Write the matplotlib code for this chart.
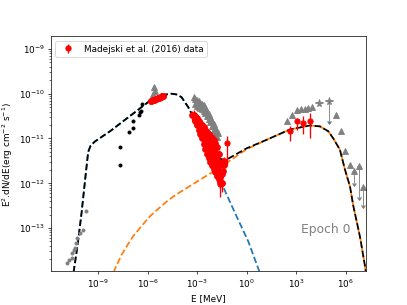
import numpy as np
import matplotlib.pyplot as plt
from matplotlib.ticker import NullLocator

# model curves: log10(E/MeV), log10(E^2 dN/dE)
sync_logE = [-10.55, -10.47, -10.25, -10.0, -9.75, -9.6, -9.45, -9.2, -8.28, -7.0, -5.76, -5.25,
             -4.9, -4.55, -4.2, -3.94, -3.54, -3.33, -3.0, -2.5, -1.62, -0.71, 0.1, 0.7, 0.9]
sync_logF = [-14.2, -13.95, -13.41, -12.66, -11.8, -11.3, -11.16, -11.07, -10.84, -10.48, -10.13, -10.07,
             -10.02, -10.0, -10.02, -10.08, -10.3, -10.45, -10.68, -11.17, -11.92, -12.66, -13.3, -13.9, -14.1]

ic_logE = [-8.15, -8.02, -7.58, -7.2, -6.87, -6.4, -5.86, -5.35, -4.85, -4.45, -4.04, -3.03, -2.02, -1.32,
           -1.11, 0.0, 1.21, 2.62, 3.84, 4.44, 4.95, 5.25, 5.65, 5.96, 6.26, 6.46, 6.87, 7.17, 7.35]
ic_logF = [-14.2, -13.95, -13.6, -13.37, -13.18, -12.97, -12.74, -12.57, -12.41, -12.3, -12.2, -11.97, -11.74,
           -11.58, -11.52, -11.24, -11.03, -10.8, -10.71, -10.73, -10.84, -11.0, -11.25, -11.7, -12.07, -12.5,
           -13.2, -13.85, -14.3]

tot_logE = [-10.55, -10.47, -10.25, -10.0, -9.75, -9.6, -9.45, -9.2, -8.28, -7.0, -5.76, -5.25, -4.9,
            -4.55, -4.2, -3.94, -3.54, -3.33, -3.0, -2.5, -2.0, -1.5, -1.11, 0.0, 1.21, 2.62, 3.84,
            4.44, 4.95, 5.25, 5.65, 5.96, 6.26, 6.46, 6.87, 7.17, 7.35]
tot_logF = [-14.2, -13.95, -13.41, -12.66, -11.8, -11.3, -11.16, -11.07, -10.84, -10.48, -10.13, -10.07, -10.02,
            -10.0, -10.02, -10.08, -10.3, -10.45, -10.66, -11.1, -11.37, -11.47, -11.45, -11.22, -11.03, -10.8, -10.71,
            -10.73, -10.84, -11.0, -11.25, -11.7, -12.07, -12.5, -13.2, -13.85, -14.3]

# archival data (gray / black)
radio_logE = [-10.89, -10.75, -10.61, -10.57, -10.45, -10.41, -10.35, -10.27, -10.1, -9.9, -9.76]
radio_logF = [-13.78, -13.72, -13.67, -13.55, -13.5, -13.45, -13.34, -13.22, -13.11, -13.04, -12.63]

opt_logE = [-7.68, -7.68, -7.15, -6.9, -6.87, -6.55, -6.45, -6.4, -6.33]
opt_logF = [-11.6, -11.19, -10.85, -10.77, -10.6, -10.47, -10.42, -10.38, -10.24]

uv_logE = [-5.62, -5.7, -5.55]
uv_logF = [-9.85, -10.0, -9.95]

xg_logE = [-3.2, -3.1, -3.0, -2.9, -2.8, -2.7, -2.6, -2.5, -2.4, -2.3, -2.2, -2.1, -2.0, -1.9, -1.8, -1.75,
           -3.1, -3.0, -2.9, -2.8, -2.7, -2.6, -2.5, -2.4, -2.3, -2.2, -2.1, -2.0, -1.9, -1.8]
xg_logF = [-10.08, -10.12, -10.15, -10.17, -10.2, -10.22, -10.26, -10.32, -10.38, -10.45, -10.52, -10.6,
           -10.68, -10.76, -10.84, -10.88,
           -10.24, -10.27, -10.29, -10.32, -10.34, -10.38, -10.44, -10.5, -10.57, -10.64, -10.72, -10.8,
           -10.88, -10.96]

vhe_logE = [2.46, 2.76, 3.03, 3.27, 3.53, 3.73, 3.94, 5.41, 5.7, 5.98, 6.24]
vhe_logF = [-10.62, -10.47, -10.37, -10.34, -10.34, -10.32, -10.3, -10.47, -10.84, -11.27, -11.59]

ul_logE = [6.48, 6.82, 7.07]
ul_logF = [-11.73, -11.62, -12.08]
ul_low = [-12.0, -12.3, -12.48]

star_logE = [4.4, 5.0]
star_logF = [-10.21, -10.17]
star_lo = [4.14, 4.72]
star_hi = [4.64, 5.25]
star_ul_low = -10.62

# Madejski et al. (2016) data (red)
mo_logE = [-5.8, -5.7, -5.6, -5.5, -5.4, -5.3, -5.2, -5.1, -5.05]
mo_logF = [-10.17, -10.15, -10.13, -10.12, -10.1, -10.09, -10.07, -10.06, -10.05]

# X-ray band: four rows (upper edge, two inner rows, lower edge) and the right arm
mx_logE = [-3.3, -3.2, -3.1, -3.0, -2.9, -2.8, -2.7, -2.6, -2.5, -2.4, -2.3, -2.2, -2.1, -2.0, -1.9, -1.8,
           -1.7, -1.6, -1.5,
           -3.1, -3.0, -2.9, -2.8, -2.7, -2.6, -2.5, -2.4, -2.3, -2.2, -2.1, -2.0, -1.9, -1.8, -1.7, -1.6,
           -3.1, -3.0, -2.9, -2.8, -2.7, -2.6, -2.5, -2.4, -2.3, -2.2, -2.1, -2.0, -1.9, -1.8, -1.7, -1.6,
           -3.2, -3.1, -3.0, -2.9, -2.8, -2.7, -2.6, -2.5, -2.4, -2.3, -2.2, -2.1, -2.0, -1.9, -1.8, -1.7,
           -1.6, -1.5,
           -1.45, -1.4, -1.35]
mx_logF = [-10.48, -10.47, -10.5, -10.55, -10.6, -10.65, -10.7, -10.75, -10.8, -10.85, -10.9, -10.95, -11.0,
           -11.03, -11.1, -11.18, -11.35, -11.6, -11.8,
           -10.53, -10.6, -10.67, -10.73, -10.8, -10.87, -10.95, -11.01, -11.08, -11.14, -11.2, -11.25, -11.32,
           -11.4, -11.53, -11.72,
           -10.57, -10.65, -10.73, -10.82, -10.9, -11.0, -11.09, -11.18, -11.26, -11.34, -11.4, -11.46, -11.54,
           -11.61, -11.72, -11.85,
           -10.5, -10.6, -10.7, -10.8, -10.9, -11.0, -11.12, -11.24, -11.34, -11.44, -11.53, -11.6, -11.68,
           -11.76, -11.83, -11.9, -11.97, -12.0,
           -11.72, -11.6, -11.5]

mx_deep_logE = [-1.6, -1.52]
mx_deep_logF = [-12.02, -12.0]
mx_deep_lo = [-12.3, -12.2]
mx_deep_hi = [-11.85, -11.85]

mx1_logE = -1.21
mx1_logF = -11.1
mx1_lo, mx1_hi = -11.59, -10.95

mg_logE = [2.62, 3.07, 3.43, 3.84]
mg_logF = [-10.84, -10.62, -10.65, -10.62]
mg_lo = [-11.06, -10.8, -10.91, -10.99]
mg_hi = [-10.73, -10.54, -10.5, -10.43]


def p(a):
    return 10.0 ** np.asarray(a)


fig = plt.figure(figsize=(6.4, 4.8))
ax = fig.add_subplot(111)

ax.plot(p(sync_logE), p(sync_logF), '--', color='C0', lw=2)
ax.plot(p(ic_logE), p(ic_logF), '--', color='C1', lw=2)
ax.plot(p(tot_logE), p(tot_logF), '--', color='k', lw=2)

ax.plot(p(radio_logE), p(radio_logF), 'o', color='gray', ms=3.5)
ax.plot(p(opt_logE), p(opt_logF), 'o', color='k', ms=3.5)
ax.plot(p(uv_logE), p(uv_logF), '^', color='gray', ms=7)
ax.plot(p(xg_logE), p(xg_logF), '^', color='gray', ms=6)
ax.plot(p(vhe_logE), p(vhe_logF), '^', color='gray', ms=6)

ul_y = p(ul_logF)
ax.errorbar(p(ul_logE), ul_y, yerr=ul_y - p(ul_low), uplims=True, fmt='^',
            color='gray', ms=6, elinewidth=1, capsize=2)
sx = p(star_logE)
sy = p(star_logF)
ax.errorbar(sx, sy, xerr=[sx - p(star_lo), p(star_hi) - sx], fmt='*', color='gray',
            ms=9, elinewidth=1)
ax.errorbar(sx[1:], sy[1:], yerr=sy[1:] - p([star_ul_low]), uplims=True, fmt='none',
            ecolor='gray', elinewidth=1, capsize=2)

y = p(mo_logF)
ax.errorbar(p(mo_logE), y, yerr=0.05 * y, fmt='o', color='red', ms=7, elinewidth=1.5)
y = p(mx_logF)
ax.errorbar(p(mx_logE), y, yerr=0.25 * y, fmt='o', color='red', ms=6.5, elinewidth=1.5)
y = p(mx_deep_logF)
ax.errorbar(p(mx_deep_logE), y, yerr=[y - p(mx_deep_lo), p(mx_deep_hi) - y], fmt='o',
            color='red', ms=6, elinewidth=1.5)
y1 = p(mx1_logF)
ax.errorbar([p(mx1_logE)], [y1], yerr=[[y1 - p(mx1_lo)], [p(mx1_hi) - y1]],
            fmt='o', color='red', ms=6, elinewidth=1.5)
y = p(mg_logF)
ax.errorbar(p(mg_logE), y, yerr=[y - p(mg_lo), p(mg_hi) - y], fmt='o', color='red',
            ms=6, elinewidth=1.5, label='Madejski et al. (2016) data')

ax.set_xscale('log')
ax.set_yscale('log')
ax.set_xlim(10 ** -11.86, 10 ** 7.25)
ax.set_ylim(10 ** -13.97, 10 ** -8.72)
ax.set_xticks([1e-9, 1e-6, 1e-3, 1e0, 1e3, 1e6])
ax.set_yticks([1e-13, 1e-12, 1e-11, 1e-10, 1e-9])
ax.xaxis.set_minor_locator(NullLocator())
ax.set_xlabel('E [MeV]')
ax.set_ylabel(r'E$^2$.dN/dE(erg cm$^{-2}$ s$^{-1}$)')
ax.text(0.95, 0.18, 'Epoch 0', transform=ax.transAxes, ha='right', va='center',
        fontsize=14, color='gray')
ax.legend(loc='upper left')

fig.savefig('out.png', dpi=407 / 6.4)
